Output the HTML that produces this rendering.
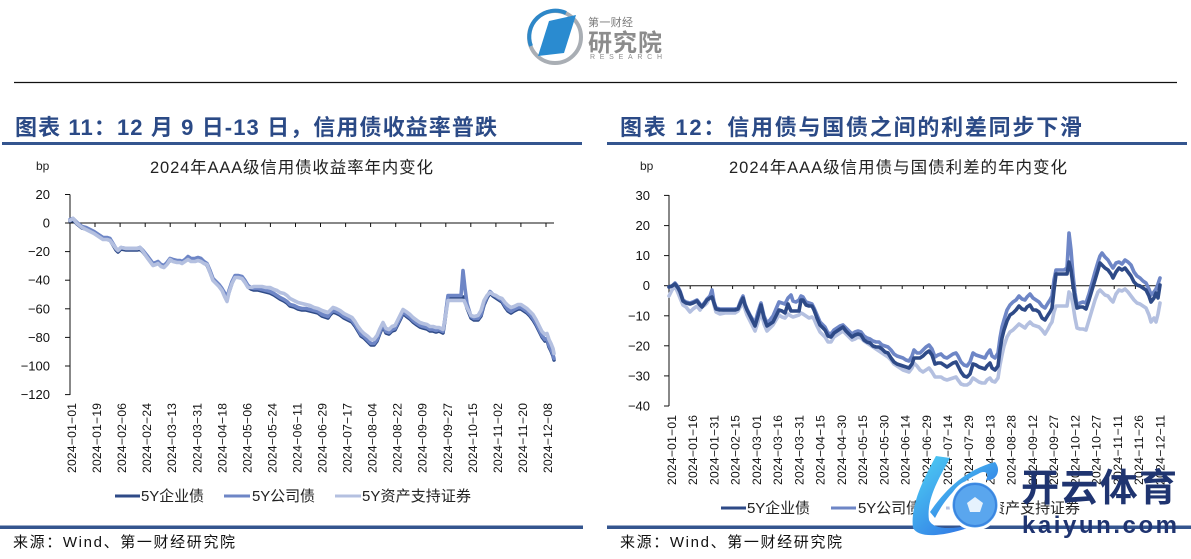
<!DOCTYPE html>
<html><head><meta charset="utf-8">
<style>
html,body{margin:0;padding:0;background:#fff;}
svg{display:block;}
text{font-family:"Liberation Sans","Noto Sans CJK SC",sans-serif;}
.cjk{font-family:"Liberation Sans","Noto Sans CJK SC",sans-serif;}
.yl{font-size:13px;fill:#111;text-anchor:end;}
.xl{font-size:12px;fill:#111;text-anchor:end;}
.lg{font-size:15px;fill:#222;}
</style></head>
<body>
<svg width="1191" height="559" viewBox="0 0 1191 559" xmlns="http://www.w3.org/2000/svg">
<rect width="1191" height="559" fill="#fff"/>

<!-- Header logo -->
<circle cx="555" cy="37" r="26" fill="none" stroke="#a9aeb4" stroke-width="4"/>
<path d="M531,46 A26,26 0 0 1 566,13" fill="none" stroke="#2d87c8" stroke-width="4"/>
<polygon points="549,21 576,15 564,53 538,56" fill="#2a8bd0"/>
<text x="588" y="26" font-size="11" fill="#7a7a7a" textLength="45" class="cjk">第一财经</text>
<text x="588" y="51" font-size="24" font-weight="bold" fill="#8c8c8c" textLength="74" class="cjk">研究院</text>
<text x="590" y="59" font-size="7" fill="#8c8c8c" textLength="72">RESEARCH</text>
<line x1="14" y1="82.5" x2="1177" y2="82.5" stroke="#111" stroke-width="1.2"/>

<!-- Section titles -->
<text x="15" y="135" font-size="22" font-weight="bold" fill="#2b4a86" textLength="482" class="cjk">图表 11：12 月 9 日-13 日，信用债收益率普跌</text>
<text x="620" y="135" font-size="22" font-weight="bold" fill="#2b4a86" textLength="462" class="cjk">图表 12：信用债与国债之间的利差同步下滑</text>
<rect x="2" y="142" width="580" height="3" fill="#34558f"/>
<rect x="607" y="142" width="580" height="3" fill="#34558f"/>

<!-- ============ LEFT CHART ============ -->
<text x="36" y="170" font-size="12" fill="#222">bp</text>
<text x="150" y="173" font-size="16.5" fill="#222" textLength="283" class="cjk">2024年AAA级信用债收益率年内变化</text>
<line x1="70" y1="194.5" x2="70" y2="395" stroke="#111" stroke-width="1"/>
<g stroke="#111" stroke-width="1">
<line x1="65" y1="194.5" x2="70" y2="194.5"/><line x1="65" y1="223" x2="70" y2="223"/>
<line x1="65" y1="251.6" x2="70" y2="251.6"/><line x1="65" y1="280.2" x2="70" y2="280.2"/>
<line x1="65" y1="308.8" x2="70" y2="308.8"/><line x1="65" y1="337.4" x2="70" y2="337.4"/>
<line x1="65" y1="366" x2="70" y2="366"/><line x1="65" y1="394.6" x2="70" y2="394.6"/>
</g>
<g class="yl">
<text x="50" y="199">20</text><text x="50" y="227.5">0</text>
<text x="50" y="256">−20</text><text x="50" y="284.7">−40</text>
<text x="50" y="313.3">−60</text><text x="50" y="341.9">−80</text>
<text x="50" y="370.5">−100</text><text x="50" y="399">−120</text>
</g>
<line x1="70" y1="223" x2="554" y2="223" stroke="#111" stroke-width="1"/>
<g stroke="#111" stroke-width="1">
<line x1="95" y1="223" x2="95" y2="227"/><line x1="120.1" y1="223" x2="120.1" y2="227"/>
<line x1="145.2" y1="223" x2="145.2" y2="227"/><line x1="170.2" y1="223" x2="170.2" y2="227"/>
<line x1="195.3" y1="223" x2="195.3" y2="227"/><line x1="220.3" y1="223" x2="220.3" y2="227"/>
<line x1="245.4" y1="223" x2="245.4" y2="227"/><line x1="270.4" y1="223" x2="270.4" y2="227"/>
<line x1="295.5" y1="223" x2="295.5" y2="227"/><line x1="320.5" y1="223" x2="320.5" y2="227"/>
<line x1="345.6" y1="223" x2="345.6" y2="227"/><line x1="370.6" y1="223" x2="370.6" y2="227"/>
<line x1="395.7" y1="223" x2="395.7" y2="227"/><line x1="420.7" y1="223" x2="420.7" y2="227"/>
<line x1="445.8" y1="223" x2="445.8" y2="227"/><line x1="470.8" y1="223" x2="470.8" y2="227"/>
<line x1="495.9" y1="223" x2="495.9" y2="227"/><line x1="520.9" y1="223" x2="520.9" y2="227"/>
<line x1="546" y1="223" x2="546" y2="227"/>
</g>
<g class="xl">
<text transform="translate(76,403) rotate(-90)" textLength="70">2024−01−01</text>
<text transform="translate(101.05,403) rotate(-90)" textLength="70">2024−01−19</text>
<text transform="translate(126.1,403) rotate(-90)" textLength="70">2024−02−06</text>
<text transform="translate(151.15,403) rotate(-90)" textLength="70">2024−02−24</text>
<text transform="translate(176.2,403) rotate(-90)" textLength="70">2024−03−13</text>
<text transform="translate(201.25,403) rotate(-90)" textLength="70">2024−03−31</text>
<text transform="translate(226.3,403) rotate(-90)" textLength="70">2024−04−18</text>
<text transform="translate(251.35,403) rotate(-90)" textLength="70">2024−05−06</text>
<text transform="translate(276.4,403) rotate(-90)" textLength="70">2024−05−24</text>
<text transform="translate(301.45,403) rotate(-90)" textLength="70">2024−06−11</text>
<text transform="translate(326.5,403) rotate(-90)" textLength="70">2024−06−29</text>
<text transform="translate(351.55,403) rotate(-90)" textLength="70">2024−07−17</text>
<text transform="translate(376.6,403) rotate(-90)" textLength="70">2024−08−04</text>
<text transform="translate(401.65,403) rotate(-90)" textLength="70">2024−08−22</text>
<text transform="translate(426.7,403) rotate(-90)" textLength="70">2024−09−09</text>
<text transform="translate(451.75,403) rotate(-90)" textLength="70">2024−09−27</text>
<text transform="translate(476.8,403) rotate(-90)" textLength="70">2024−10−15</text>
<text transform="translate(501.85,403) rotate(-90)" textLength="70">2024−11−02</text>
<text transform="translate(526.9,403) rotate(-90)" textLength="70">2024−11−20</text>
<text transform="translate(551.95,403) rotate(-90)" textLength="70">2024−12−08</text>
</g>
<g fill="none" stroke-width="3.6" stroke-linejoin="round" stroke-linecap="round">
<polyline stroke="#2e4a87" points="70,221 73,220 77,224 82,228 86,229 90,231 94,233 97,235 100,237 103,239 107,239 110,240 113,245 116,250 118,252 121,249 126,250 131,250 137,250 140,249 143,252 147,257 150,261 153,265 156,264 158,263 161,266 164,267 167,264 170,260 173,261 177,262 180,262 182,263 185,261 188,258 191,260 195,260 198,259 201,260 204,263 207,265 210,272 213,280 216,283 219,286 222,290 225,295 227,299 229,292 232,283 235,277 238,277 242,278 245,282 248,287 251,289 254,290 258,290 262,291 266,292 270,293 274,295 277,297 280,299 284,301 287,303 290,306 294,307 298,309 302,310 306,310 310,311 314,312 318,313 322,316 325,317 328,318 330,315 333,312 336,313 340,315 344,318 348,320 352,322 355,326 358,331 361,336 364,338 368,342 371,345 374,345 377,341 380,333 383,326 386,333 389,334 392,331 395,330 398,324 401,318 403,313 406,316 410,319 413,322 417,325 420,327 423,328 427,329 430,331 433,331 436,332 439,331 443,333 445,320 448,297 452,297 455,297 458,297 461,297 464,297 467,308 471,318 474,320 478,320 481,316 484,305 487,298 490,293 493,296 496,298 499,300 502,302 505,307 508,311 511,313 514,311 518,309 521,309 524,311 527,313 530,316 533,320 536,325 539,331 542,337 545,341 547,340 549,347 551,351 553,356 554,360"/>
<polyline stroke="#6e86c6" transform="translate(0,-1.5)" points="70,221 73,220 77,224 82,228 86,229 90,231 94,233 97,235 100,237 103,239 107,239 110,240 113,245 116,250 118,252 121,249 126,250 131,250 137,250 140,249 143,252 147,257 150,261 153,265 156,264 158,263 161,266 164,267 167,264 170,260 173,261 177,262 180,262 182,263 185,261 188,258 191,260 195,260 198,259 201,260 204,263 207,265 210,272 213,280 216,283 219,286 222,290 225,295 227,299 229,292 232,283 235,277 238,277 242,278 245,282 248,287 251,289 254,290 258,290 262,291 266,292 270,293 274,295 277,297 280,299 284,301 287,303 290,306 294,307 298,309 302,310 306,310 310,311 314,312 318,313 322,316 325,317 328,318 330,315 333,312 336,313 340,315 344,318 348,320 352,322 355,326 358,331 361,336 364,338 368,342 371,345 374,345 377,341 380,333 383,326 386,333 389,334 392,331 395,330 398,324 401,318 403,313 406,316 410,319 413,322 417,325 420,327 423,328 427,329 430,331 433,331 436,332 439,331 443,333 445,320 448,297 452,297 455,297 458,297 461,297 462,285 463,272 465,290 467,305 471,318 474,320 478,320 481,316 484,305 487,298 490,293 493,296 496,298 499,300 502,302 505,307 508,311 511,313 514,311 518,309 521,309 524,311 527,313 530,316 533,320 536,325 539,331 542,337 545,341 547,340 549,347 551,351 553,356 554,360"/>
<polyline stroke="#b4c0e0" transform="translate(0,-2.5)" points="70,223 73,221 77,226 82,230 86,232 90,234 94,236 97,238 100,240 103,242 107,242 110,243 113,247 116,251 118,253 121,250 126,251 131,251 137,251 140,250 143,254 147,260 150,264 153,268 156,267 158,266 161,269 164,270 167,267 170,262 173,264 177,265 180,265 182,266 185,264 188,262 191,264 195,264 198,263 201,264 204,266 207,267 210,275 213,283 216,286 219,289 222,293 225,300 227,304 229,295 232,286 235,280 238,280 242,281 245,285 248,290 251,290 254,289 258,289 262,289 266,290 270,290 274,292 277,293 280,295 284,296 287,298 290,301 294,303 298,305 302,306 306,307 310,308 314,310 318,311 322,313 325,314 328,315 330,313 333,310 336,311 340,313 344,316 348,318 352,320 355,324 358,329 361,333 364,336 368,339 371,342 374,342 377,338 380,331 383,325 386,331 389,332 392,329 395,328 398,322 401,316 403,312 406,314 410,317 413,320 417,323 420,325 423,326 427,327 430,329 433,329 436,330 439,330 443,332 445,322 448,303 452,303 455,303 458,303 461,303 464,303 467,310 471,318 474,319 478,318 481,313 484,303 487,298 490,295 493,297 496,298 499,300 502,301 505,305 508,308 511,310 514,309 518,307 521,307 524,309 527,311 530,314 533,317 536,322 539,328 542,334 545,337 547,336 549,342 551,346 553,351 554,356"/>
</g>
<!-- left legend -->
<line x1="115" y1="496" x2="140" y2="496" stroke="#2e4a87" stroke-width="3"/>
<text x="141" y="501" class="lg" textLength="63">5Y企业债</text>
<line x1="224" y1="496" x2="250" y2="496" stroke="#6e86c6" stroke-width="3"/>
<text x="252" y="501" class="lg" textLength="63">5Y公司债</text>
<line x1="335" y1="496" x2="361" y2="496" stroke="#b4c0e0" stroke-width="3"/>
<text x="362" y="501" class="lg" textLength="109">5Y资产支持证券</text>

<!-- ============ RIGHT CHART ============ -->
<text x="640" y="170" font-size="12" fill="#222">bp</text>
<text x="729" y="173" font-size="16.5" fill="#222" textLength="338" class="cjk">2024年AAA级信用债与国债利差的年内变化</text>
<line x1="669" y1="195" x2="669" y2="406" stroke="#111" stroke-width="1"/>
<g stroke="#111" stroke-width="1">
<line x1="664" y1="195.4" x2="669" y2="195.4"/><line x1="664" y1="225.6" x2="669" y2="225.6"/>
<line x1="664" y1="255.6" x2="669" y2="255.6"/><line x1="664" y1="285.7" x2="669" y2="285.7"/>
<line x1="664" y1="315.8" x2="669" y2="315.8"/><line x1="664" y1="345.8" x2="669" y2="345.8"/>
<line x1="664" y1="375.9" x2="669" y2="375.9"/><line x1="664" y1="406" x2="669" y2="406"/>
</g>
<g class="yl">
<text x="650" y="200">30</text><text x="650" y="230">20</text>
<text x="650" y="260">10</text><text x="650" y="290.2">0</text>
<text x="650" y="320.3">−10</text><text x="650" y="350.3">−20</text>
<text x="650" y="380.4">−30</text><text x="650" y="410.5">−40</text>
</g>
<line x1="669" y1="285.7" x2="1161" y2="285.7" stroke="#111" stroke-width="1"/>
<g stroke="#111" stroke-width="1">
<line x1="690.2" y1="286" x2="690.2" y2="289"/><line x1="711.4" y1="286" x2="711.4" y2="289"/>
<line x1="732.6" y1="286" x2="732.6" y2="289"/><line x1="753.8" y1="286" x2="753.8" y2="289"/>
<line x1="775" y1="286" x2="775" y2="289"/><line x1="796.2" y1="286" x2="796.2" y2="289"/>
<line x1="817.4" y1="286" x2="817.4" y2="289"/><line x1="838.6" y1="286" x2="838.6" y2="289"/>
<line x1="859.8" y1="286" x2="859.8" y2="289"/><line x1="881" y1="286" x2="881" y2="289"/>
<line x1="902.2" y1="286" x2="902.2" y2="289"/><line x1="923.4" y1="286" x2="923.4" y2="289"/>
<line x1="944.6" y1="286" x2="944.6" y2="289"/><line x1="965.8" y1="286" x2="965.8" y2="289"/>
<line x1="987" y1="286" x2="987" y2="289"/><line x1="1008.2" y1="286" x2="1008.2" y2="289"/>
<line x1="1029.4" y1="286" x2="1029.4" y2="289"/><line x1="1050.6" y1="286" x2="1050.6" y2="289"/>
<line x1="1071.8" y1="286" x2="1071.8" y2="289"/><line x1="1093" y1="286" x2="1093" y2="289"/>
<line x1="1114.2" y1="286" x2="1114.2" y2="289"/><line x1="1135.4" y1="286" x2="1135.4" y2="289"/>
<line x1="1156.6" y1="286" x2="1156.6" y2="289"/>
</g>
<g class="xl">
<text transform="translate(676,415) rotate(-90)" textLength="70">2024−01−01</text>
<text transform="translate(697.2,415) rotate(-90)" textLength="70">2024−01−16</text>
<text transform="translate(718.5,415) rotate(-90)" textLength="70">2024−01−31</text>
<text transform="translate(739.7,415) rotate(-90)" textLength="70">2024−02−15</text>
<text transform="translate(760.9,415) rotate(-90)" textLength="70">2024−03−01</text>
<text transform="translate(782.2,415) rotate(-90)" textLength="70">2024−03−16</text>
<text transform="translate(803.4,415) rotate(-90)" textLength="70">2024−03−31</text>
<text transform="translate(824.6,415) rotate(-90)" textLength="70">2024−04−15</text>
<text transform="translate(845.8,415) rotate(-90)" textLength="70">2024−04−30</text>
<text transform="translate(867.1,415) rotate(-90)" textLength="70">2024−05−15</text>
<text transform="translate(888.3,415) rotate(-90)" textLength="70">2024−05−30</text>
<text transform="translate(909.5,415) rotate(-90)" textLength="70">2024−06−14</text>
<text transform="translate(930.8,415) rotate(-90)" textLength="70">2024−06−29</text>
<text transform="translate(952,415) rotate(-90)" textLength="70">2024−07−14</text>
<text transform="translate(973.2,415) rotate(-90)" textLength="70">2024−07−29</text>
<text transform="translate(994.5,415) rotate(-90)" textLength="70">2024−08−13</text>
<text transform="translate(1015.7,415) rotate(-90)" textLength="70">2024−08−28</text>
<text transform="translate(1036.9,415) rotate(-90)" textLength="70">2024−09−12</text>
<text transform="translate(1058.1,415) rotate(-90)" textLength="70">2024−09−27</text>
<text transform="translate(1079.4,415) rotate(-90)" textLength="70">2024−10−12</text>
<text transform="translate(1100.6,415) rotate(-90)" textLength="70">2024−10−27</text>
<text transform="translate(1121.8,415) rotate(-90)" textLength="70">2024−11−11</text>
<text transform="translate(1143.1,415) rotate(-90)" textLength="70">2024−11−26</text>
<text transform="translate(1164.3,415) rotate(-90)" textLength="70">2024−12−11</text>
</g>
<g fill="none" stroke-width="3.6" stroke-linejoin="round" stroke-linecap="round">
<polyline stroke="#b4c0e0" points="669,296 672,290 675,286 678,293 680,298 683,305 686,307 690,312 693,309 697,306 700,310 702,307 705,305 707,303 710,297 712,292 714,305 716,312 720,314 725,313 730,313 735,313 738,311 741,306 743,303 745,309 747,315 750,321 753,327 755,331 758,322 761,312 764,324 767,331 770,328 773,325 776,320 779,315 782,317 785,318 788,314 791,316 793,317 796,316 799,315 801,313 803,314 806,316 809,318 812,317 814,319 817,326 820,332 822,334 825,337 828,342 831,342 834,337 837,335 840,333 843,331 846,334 849,337 852,340 855,339 858,337 861,338 864,341 867,343 870,345 873,347 876,349 879,351 882,353 885,355 888,357 891,360 894,364 897,366 900,368 903,370 906,371 909,372 912,368 914,363 917,366 920,370 923,372 926,370 929,368 932,372 935,377 938,377 941,377 944,379 947,380 950,379 953,378 956,377 958,380 961,384 964,385 967,385 970,383 973,378 976,380 979,382 982,383 985,383 987,380 990,378 992,381 995,382 998,378 1000,365 1002,355 1004,346 1007,337 1010,332 1013,330 1016,327 1019,324 1022,326 1025,328 1027,325 1030,322 1033,325 1036,326 1039,327 1042,330 1045,334 1048,329 1050,325 1052,322 1054,312 1056,306 1060,306 1064,306 1067,306 1069,292 1071,295 1073,305 1075,318 1077,328 1080,329 1083,329 1086,330 1089,320 1092,310 1095,300 1098,292 1100,290 1102,292 1105,295 1108,296 1111,300 1113,302 1116,294 1119,290 1122,291 1125,289 1128,292 1131,296 1134,300 1137,303 1140,304 1143,306 1146,308 1149,315 1151,322 1154,318 1156,322 1158,314 1160,303"/>
<polyline stroke="#6e86c6" points="669,287 672,286 675,283 678,287 680,291 683,300 686,302 690,303 693,302 697,300 700,304 702,306 705,302 707,299 710,296 712,290 714,302 716,308 720,309 725,309 730,309 735,309 738,308 741,300 743,296 745,304 747,309 750,315 753,320 755,323 758,312 761,303 764,316 767,323 770,320 773,316 776,309 779,302 782,303 785,304 788,298 791,295 793,301 796,302 799,300 801,296 803,297 806,302 809,303 812,304 814,308 817,315 820,322 822,324 825,327 828,333 831,334 834,330 837,328 840,326 843,325 846,328 849,331 852,334 855,332 858,331 861,332 864,336 867,338 870,339 873,341 876,342 879,342 882,345 885,346 888,347 891,350 894,354 897,356 900,357 903,358 906,360 909,361 912,356 914,350 917,353 920,353 923,350 926,347 929,345 932,349 935,357 938,355 941,354 944,357 947,358 950,356 953,354 956,353 958,356 961,362 964,365 967,366 970,362 973,353 976,355 979,356 982,357 985,358 987,354 990,350 992,356 995,358 998,353 1000,338 1002,327 1004,320 1007,310 1010,305 1013,302 1016,300 1019,296 1022,299 1025,300 1027,297 1030,294 1033,298 1036,300 1039,302 1042,306 1045,308 1048,303 1050,300 1052,296 1054,280 1056,270 1060,270 1064,270 1067,268 1069,233 1071,250 1073,275 1075,293 1077,305 1080,303 1083,302 1086,303 1089,294 1092,283 1095,272 1098,262 1100,256 1102,253 1105,257 1108,260 1111,265 1113,268 1116,263 1119,262 1122,264 1125,260 1128,262 1131,265 1134,272 1137,276 1140,278 1143,281 1146,283 1149,289 1151,295 1154,292 1156,289 1158,284 1160,278"/>
<polyline stroke="#2e4a87" points="669,287 672,286 675,284 678,288 680,292 683,301 686,303 690,304 693,303 697,301 700,305 702,307 705,303 707,300 710,298 712,297 714,303 716,309 720,310 725,310 730,310 735,310 738,309 741,302 743,298 745,305 747,310 750,316 753,322 755,326 758,316 761,305 764,318 767,326 770,324 773,322 776,316 779,310 782,311 785,313 788,304 791,311 796,311 799,311 801,300 803,300 806,305 809,306 812,306 814,310 817,318 820,325 822,327 825,330 828,336 831,337 834,333 837,331 840,329 843,327 846,331 849,334 852,337 855,335 858,334 861,335 864,340 867,342 870,343 873,346 876,347 879,347 882,349 885,352 888,353 891,358 894,362 897,364 900,365 903,366 906,367 909,368 912,364 914,358 917,358 920,358 923,356 926,353 929,351 932,355 935,364 938,363 941,363 944,365 947,367 950,365 953,363 956,362 958,366 961,372 964,376 967,377 970,374 973,364 976,365 979,367 982,368 985,369 987,366 990,363 992,368 995,370 998,366 1000,350 1002,338 1004,330 1007,321 1010,315 1013,313 1016,310 1019,306 1022,309 1025,310 1027,307 1030,305 1033,310 1036,310 1039,312 1042,318 1045,320 1048,315 1050,312 1052,308 1054,290 1056,274 1060,274 1064,274 1067,274 1069,262 1071,270 1073,285 1075,298 1077,308 1080,307 1083,307 1086,309 1089,300 1092,290 1095,280 1098,270 1100,263 1102,265 1105,268 1108,270 1111,274 1113,278 1116,272 1119,268 1122,270 1125,268 1128,272 1131,276 1134,282 1137,285 1140,286 1143,288 1146,290 1149,296 1151,302 1154,298 1156,293 1158,298 1160,285"/>
</g>
<!-- right legend -->
<line x1="721" y1="508" x2="746" y2="508" stroke="#2e4a87" stroke-width="3"/>
<text x="747" y="513" class="lg" textLength="63">5Y企业债</text>
<line x1="831" y1="508" x2="856" y2="508" stroke="#6e86c6" stroke-width="3"/>
<text x="858" y="513" class="lg" textLength="63">5Y公司债</text>
<line x1="946" y1="508" x2="971" y2="508" stroke="#b4c0e0" stroke-width="3"/>
<text x="972" y="513" class="lg" textLength="108">5Y资产支持证券</text>

<!-- bottom rules and sources -->
<rect x="0" y="525.5" width="583" height="3.5" fill="#34558f"/>
<rect x="607" y="525.5" width="584" height="3.5" fill="#34558f"/>
<text x="13" y="547" font-size="15" fill="#111" textLength="222" class="cjk">来源：Wind、第一财经研究院</text>
<text x="620" y="547" font-size="15" fill="#111" textLength="222" class="cjk">来源：Wind、第一财经研究院</text>

<!-- watermark -->
<defs>
<linearGradient id="kg" x1="0" y1="0" x2="1" y2="1">
<stop offset="0" stop-color="#4fd3f5"/><stop offset="1" stop-color="#2a62e0"/>
</linearGradient>
</defs>
<path d="M936,456 C924,478 910,505 913,528 C920,540 950,537 994,518 C962,530 934,532 929,520 C926,500 939,478 950,458 Z" fill="url(#kg)"/>
<path d="M930,512 C945,490 965,470 995,462 C1002,470 996,482 986,480 C990,472 984,470 978,474 C960,482 945,498 935,518 Z" fill="url(#kg)"/>
<circle cx="975" cy="505" r="24" fill="#5aa6ee" stroke="#ffffff" stroke-width="3"/>
<circle cx="975" cy="505" r="21" fill="none" stroke="#3b86e0" stroke-width="2"/>
<polygon points="975,497 983,503 980,512 970,512 967,503" fill="#ffffff" opacity="0.85"/>
<text x="1021" y="501" font-size="38" font-weight="bold" fill="#1f3470" textLength="156" class="cjk">开云体育</text>
<text x="1022" y="533" font-size="24" font-weight="bold" fill="#1f3470" textLength="155">kaiyun.com</text>
</svg>
</body></html>
